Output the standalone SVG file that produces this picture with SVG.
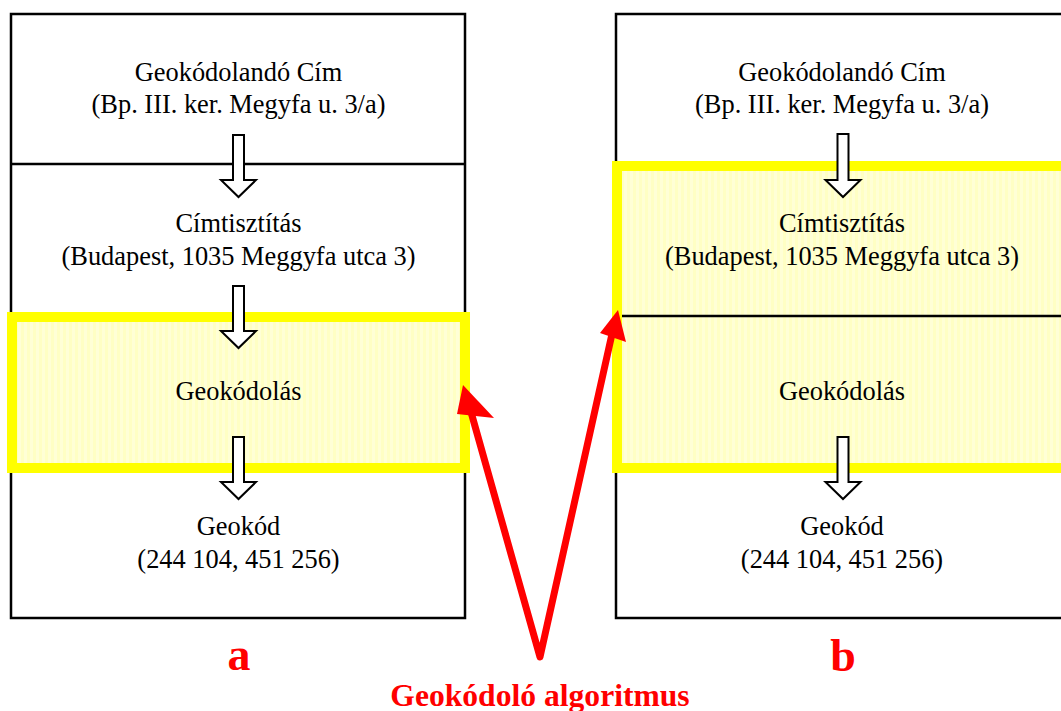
<svg xmlns="http://www.w3.org/2000/svg" width="1061" height="711" viewBox="0 0 1061 711">
<defs>
<pattern id="stripes" x="0" y="0" width="6" height="10" patternUnits="userSpaceOnUse">
<rect width="6" height="10" fill="#FFFFC4"/>
<rect x="0" width="3" height="10" fill="#FFFFD6"/>
</pattern>
</defs>
<style>
.box{fill:#fff;stroke:#000;stroke-width:2.5}
.div{stroke:#000;stroke-width:2.5}
.hl{fill:url(#stripes);stroke:#FFFF00;stroke-width:10}
.t{font-family:"Liberation Serif","Times New Roman",serif;font-size:26.4px;fill:#000;text-anchor:middle}
.lbl{font-family:"Liberation Serif","Times New Roman",serif;font-weight:bold;fill:#FF0000;text-anchor:middle}
.blk{fill:#fff;stroke:#000;stroke-width:2;stroke-linejoin:miter}
.red{fill:none;stroke:#FF0000;stroke-width:7;stroke-linejoin:round;stroke-linecap:round}
.redhead{fill:#FF0000}
</style>
<g id="panel-a">
<rect class="box" x="11" y="14" width="454" height="604"/>
<line class="div" x1="11" y1="164" x2="465" y2="164"/>
<rect class="hl" x="12" y="317" width="453" height="151"/>
<text class="t" x="238.5" y="81">Geokódolandó Cím</text>
<text class="t" x="238.5" y="113">(Bp. III. ker. Megyfa u. 3/a)</text>
<text class="t" x="238.5" y="232">Címtisztítás</text>
<text class="t" x="238.5" y="265">(Budapest, 1035 Meggyfa utca 3)</text>
<text class="t" x="238.5" y="400">Geokódolás</text>
<text class="t" x="238.5" y="535">Geokód</text>
<text class="t" x="238.5" y="568">(244 104, 451 256)</text>
<polygon class="blk" points="233,135 244,135 244,180 256,180 238.5,197 221,180 233,180"/>
<polygon class="blk" points="233,286 244,286 244,331 256,331 238.5,348 221,331 233,331"/>
<polygon class="blk" points="233,437 244,437 244,482 256,482 238.5,499 221,482 233,482"/>
<text class="lbl" x="239" y="670" font-size="46">a</text>
</g>
<g id="panel-b">
<rect class="box" x="616" y="14" width="460" height="604"/>
<rect class="hl" x="617" y="166" width="460" height="302"/>
<line class="div" x1="622" y1="316" x2="1061" y2="316"/>
<text class="t" x="842" y="81">Geokódolandó Cím</text>
<text class="t" x="842" y="113">(Bp. III. ker. Megyfa u. 3/a)</text>
<text class="t" x="842" y="232">Címtisztítás</text>
<text class="t" x="842" y="265">(Budapest, 1035 Meggyfa utca 3)</text>
<text class="t" x="842" y="400">Geokódolás</text>
<text class="t" x="842" y="535">Geokód</text>
<text class="t" x="842" y="568">(244 104, 451 256)</text>
<polygon class="blk" points="837.5,134 848.5,134 848.5,180 860.5,180 843,197 825.5,180 837.5,180"/>
<polygon class="blk" points="837.5,437 848.5,437 848.5,482 860.5,482 843,499 825.5,482 837.5,482"/>
<text class="lbl" x="843" y="671" font-size="46">b</text>
</g>
<g id="connectors">
<polyline class="red" points="471,412 540,657 612,334"/>
<polygon class="redhead" points="463,385 494,418 457,414"/>
<polygon class="redhead" points="618,310 626,342 600,333"/>
</g>
<g id="caption">
<text class="lbl" x="540" y="706" font-size="31.6">Geokódoló algoritmus</text>
</g>
</svg>
